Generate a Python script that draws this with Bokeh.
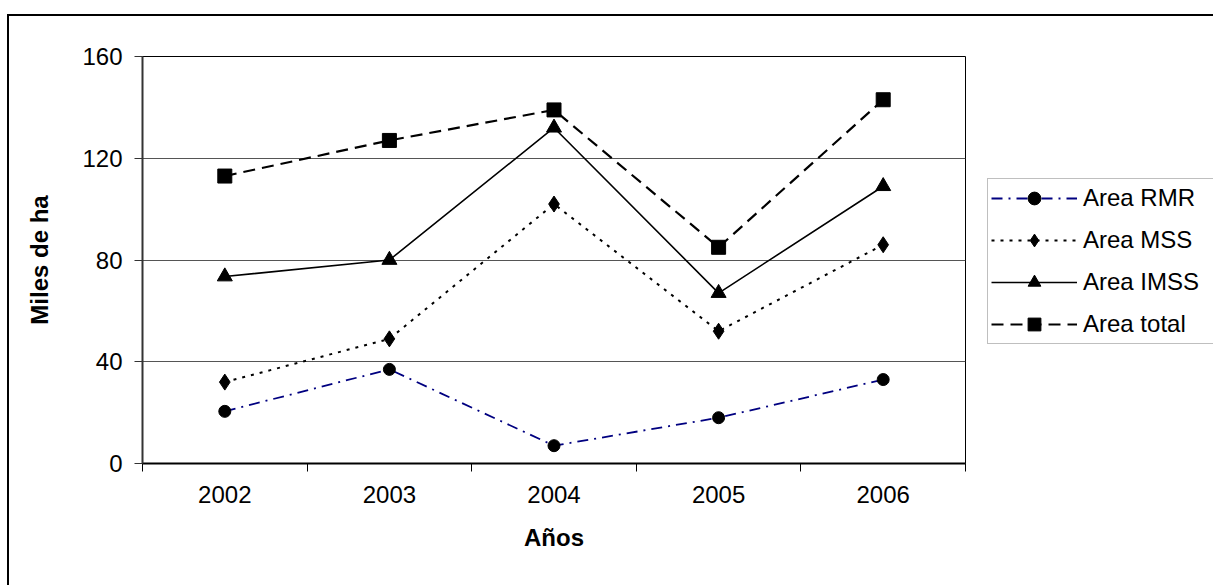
from bokeh.plotting import figure
from bokeh.models import FixedTicker, Legend, LegendItem, Range1d
from bokeh.embed import file_html
from bokeh.resources import INLINE

years = [2002, 2003, 2004, 2005, 2006]
area_rmr = [20.5, 37, 7, 18, 33]
area_mss = [32, 49, 102, 52, 86]
area_imss = [73.5, 80, 132, 67, 109]
area_total = [113, 127, 139, 85, 143]
y_ticks = [0, 40, 80, 120, 160]

FONT = "Liberation Sans"
FS = "24px"

# outer chart border drawn as CSS on the host element (offset 7,14)
OFF_X, OFF_Y, BW = 7, 14, 2

p = figure(frame_width=823, frame_height=407, output_backend="svg", toolbar_location=None,
           x_range=Range1d(2001.5, 2006.5), y_range=Range1d(0, 160),
           min_border_left=142 - OFF_X - BW, min_border_right=0,
           min_border_top=56 - OFF_Y - BW, min_border_bottom=585 - 463,
           styles={"margin-left": f"{OFF_X}px", "margin-top": f"{OFF_Y}px",
                   "border-left": f"{BW}px solid black", "border-top": f"{BW}px solid black"})
p.background_fill_color = "white"
p.border_fill_color = "white"
p.outline_line_color = "black"
p.outline_line_width = 1

# axes
p.xaxis.ticker = FixedTicker(ticks=years, minor_ticks=[y - 0.5 for y in years] + [years[-1] + 0.5])
p.xaxis.major_tick_line_color = None
p.xaxis.minor_tick_line_color = "black"
p.xaxis.minor_tick_in = 0
p.xaxis.minor_tick_out = 8
p.xaxis.axis_line_color = "black"
p.xaxis.axis_line_width = 2
p.xaxis.major_label_text_font = FONT
p.xaxis.major_label_text_font_size = FS
p.xaxis.major_label_text_color = "black"
p.xaxis.major_label_standoff = 14
p.xaxis.axis_label = "Años"
p.xaxis.axis_label_text_font = FONT
p.xaxis.axis_label_text_font_size = FS
p.xaxis.axis_label_text_font_style = "bold"
p.xaxis.axis_label_text_color = "black"
p.xaxis.axis_label_standoff = 18

p.yaxis.ticker = FixedTicker(ticks=y_ticks)
p.yaxis.minor_tick_line_color = None
p.yaxis.major_tick_in = 0
p.yaxis.major_tick_out = 8
p.yaxis.major_tick_line_color = "#333333"
p.yaxis.axis_line_color = "#333333"
p.yaxis.axis_line_width = 2
p.yaxis.major_label_text_font = FONT
p.yaxis.major_label_text_font_size = FS
p.yaxis.major_label_text_color = "black"
p.yaxis.major_label_standoff = 12
p.yaxis.axis_label = "Miles de ha"
p.yaxis.axis_label_text_font = FONT
p.yaxis.axis_label_text_font_size = FS
p.yaxis.axis_label_text_font_style = "bold"
p.yaxis.axis_label_text_color = "black"
p.yaxis.axis_label_standoff = 26

p.xgrid.grid_line_color = None
p.ygrid.grid_line_color = "#555555"
p.ygrid.grid_line_width = 1

# series
l1 = p.line(years, area_rmr, line_color="#000080", line_width=1.8, line_dash="11 6 2 6")
m1 = p.scatter(years, area_rmr, marker="circle", size=12, fill_color="black", line_color="black")
l2 = p.line(years, area_mss, line_color="black", line_width=2, line_dash="3 6")
m2 = p.scatter(years, area_mss, marker="diamond", size=16, fill_color="black", line_color="black")
l3 = p.line(years, area_imss, line_color="black", line_width=1.6)
m3 = p.scatter(years, area_imss, marker="triangle", size=15, fill_color="black", line_color="black")
l4 = p.line(years, area_total, line_color="black", line_width=2.2, line_dash="12 7")
m4 = p.scatter(years, area_total, marker="square", size=14, fill_color="black", line_color="black")

legend = Legend(items=[
    LegendItem(label="Area RMR", renderers=[l1, m1]),
    LegendItem(label="Area MSS", renderers=[l2, m2]),
    LegendItem(label="Area IMSS", renderers=[l3, m3]),
    LegendItem(label="Area total", renderers=[l4, m4]),
], location=(22, 119))
legend.label_text_font = FONT
legend.label_text_font_size = FS
legend.label_text_color = "black"
legend.glyph_width = 86
legend.glyph_height = 32
legend.label_height = 32
legend.label_width = 140
legend.spacing = 10
legend.padding = 3
legend.margin = 0
legend.label_standoff = 6
legend.border_line_color = "#808080"
legend.border_line_width = 1
legend.background_fill_color = "white"
legend.background_fill_alpha = 1
p.add_layout(legend, "right")

html = file_html(p, INLINE)
html = html.replace("<body>", '<body style="margin:0;overflow:hidden">', 1)
open("out.html", "w").write(html)
